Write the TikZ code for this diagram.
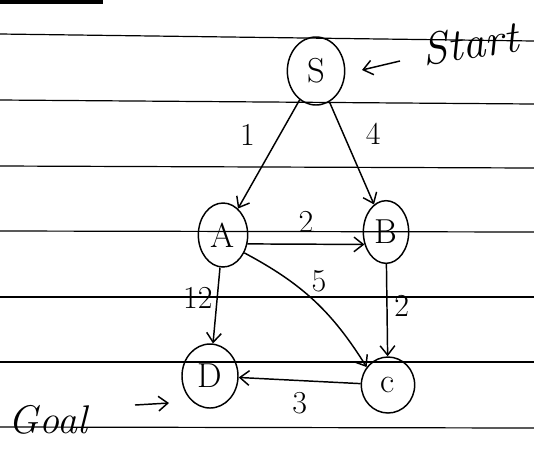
\documentclass[tikz,border=0pt]{standalone}
\usetikzlibrary{shapes.geometric,arrows.meta,positioning}
\begin{document}
\begin{tikzpicture}[x=0.75pt,y=0.75pt,yscale=-1,xscale=1,
  vertex/.style={draw,ellipse,line width=1.1pt,inner sep=0pt,font=\fontsize{26}{26}\selectfont},
  wt/.style={font=\fontsize{24}{24}\selectfont,inner sep=2pt},
  ruled/.style={line width=0.9pt,black},
  edge/.style={line width=1.1pt,-{Straight Barb[length=7pt,width=11pt]}}]
\useasboundingbox (0,0) rectangle (534,455);

%Ruled Lines
\fill (0,0) rectangle (103,4);
\draw [ruled] (0,34) -- (534,41) ;
\draw [ruled] (0,100) -- (534,104) ;
\draw [ruled] (0,166) -- (534,168) ;
\draw [ruled] (0,231) -- (534,232) ;
\draw [ruled] (0,297) -- (534,297) ;
\draw [ruled] (0,362) -- (534,362) ;
\draw [ruled] (0,427) -- (534,428) ;

% Vertices
\node [vertex,minimum width=43pt,minimum height=51pt] (S) at (316,71) {S};
\node [vertex,minimum width=37pt,minimum height=48pt] (A) at (223,235) {A};
\node [vertex,minimum width=34pt,minimum height=47pt] (B) at (386,232) {B};
\node [vertex,minimum width=42pt,minimum height=48pt] (D) at (210,376) {D};
\node [vertex,minimum width=40pt,minimum height=42pt] (C) at (388,385) {c};

% Text Node
\node [font=\fontsize{34}{34}\selectfont\itshape,rotate=8] (start) at (470,43) {Start};
\node [font=\fontsize{30}{30}\selectfont\itshape] (goal) at (48,420) {Goal};
\coordinate (startp) at (400,61);
\coordinate (startq) at (362,70);
\coordinate (goalp) at (135,405);
\coordinate (goalq) at (169,403);

%Edges
\draw [edge] (S) -- node [wt,above left=4pt and 8pt] {1} (A) ;
\draw [edge] (S) -- node [wt,above right=4pt and 8pt] {4} (B) ;
\draw [edge] (A.-20) -- node [wt,above=6pt] {2} (B.210) ;
\draw [edge] (A) -- node [wt,left=1pt,pos=0.4] {12} (D) ;
\draw [edge] (A.-40) to [bend right=15] node [wt,above right=0pt and 0pt,pos=0.45] {5} (C.140) ;
\draw [edge] (B) -- node [wt,right=3pt,pos=0.45] {2} (C) ;
\draw [edge] (C) -- node [wt,below=6pt] {3} (D) ;

%Pointers
\draw [edge] (startp) -- (startq) ;
\draw [edge] (goalp) -- (goalq) ;
\end{tikzpicture}
\end{document}
